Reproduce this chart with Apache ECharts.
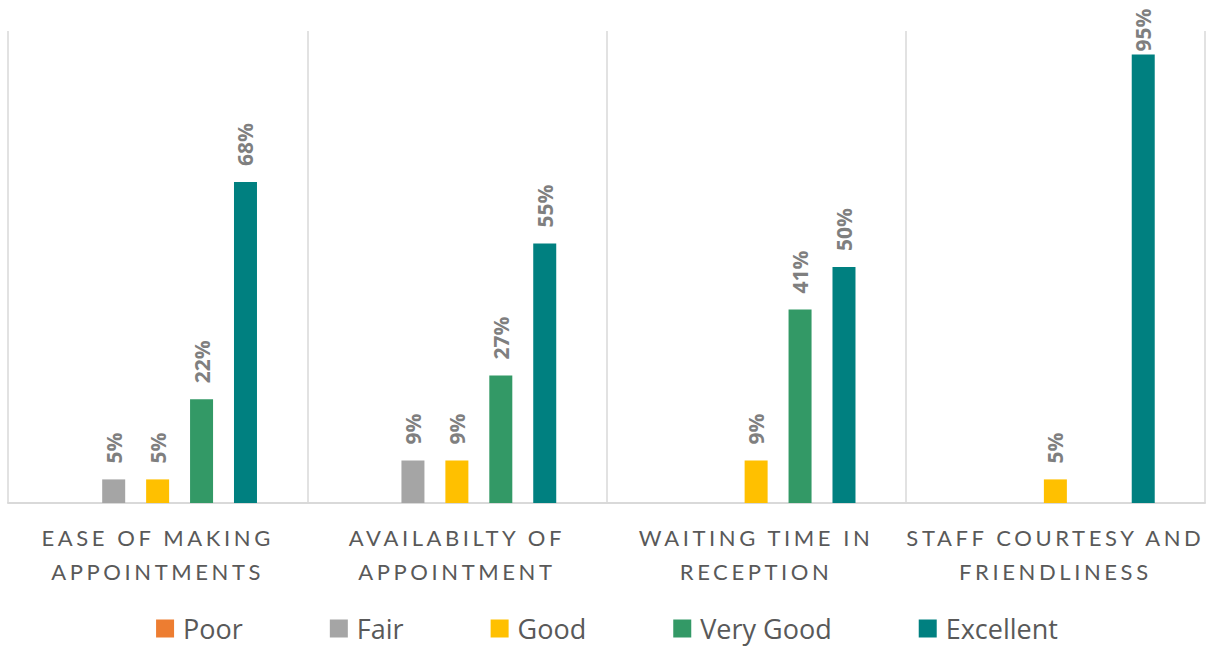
<!DOCTYPE html>
<html lang="en">
<head>
    <meta charset="UTF-8" />
    <title>Patient satisfaction</title>
    <script src="https://cdnjs.cloudflare.com/ajax/libs/echarts/6.0.0/echarts.min.js"></script>
    <style>
        html, body { margin: 0; padding: 0; background: #fff; }
        #main1 { width: 1214px; height: 646px; }
        /* spaced-out caps for the category names, like the original */
        #main1 svg text[style*="Lato"] { letter-spacing: 3.6px; }
    </style>
</head>
<body>
<div id="main1"></div>
<script>
    var categories = ['EASE OF MAKING\nAPPOINTMENTS', 'AVAILABILTY OF\nAPPOINTMENT',
                      'WAITING TIME IN\nRECEPTION', 'STAFF COURTESY AND\nFRIENDLINESS'];
    var poor      = [0, 0, 0, 0];
    var fair      = [5, 9, 0, 0];
    var good      = [5, 9, 9, 5];
    var veryGood  = [22, 27, 41, 0];
    var excellent = [68, 55, 50, 95];

    var seriesNames = ['Poor', 'Fair', 'Good', 'Very Good', 'Excellent'];
    var colors = ['#ED7D31', '#A5A5A5', '#FFC000', '#339966', '#008080'];
    var values = [poor, fair, good, veryGood, excellent];

    var myChart1 = echarts.init(document.getElementById('main1'), null, { renderer: 'svg' });

    var series = seriesNames.map(function (name, i) {
        return {
            name: name,
            type: 'bar',
            barWidth: 23,
            barGap: '91%',
            itemStyle: { color: colors[i] },
            // labels near the top edge get pulled down so they stay on the chart
            data: values[i].map(function (v) {
                return v > 90 ? { value: v, label: { distance: 3 } } : v;
            }),
            label: {
                show: true,
                position: 'top',
                rotate: 90,
                align: 'left',
                verticalAlign: 'middle',
                distance: 16,
                color: '#7F7F7F',
                fontFamily: 'Open Sans',
                fontWeight: 'bold',
                fontSize: 21,
                formatter: function (p) {
                    return p.value ? p.value + '%' : '';
                }
            }
        };
    });

    var option = {
        animation: false,
        color: colors,
        legend: {
            bottom: -1,
            left: 'center',
            itemWidth: 18,
            itemHeight: 18,
            itemGap: 87,
            icon: 'rect',
            textStyle: { color: '#595959', fontFamily: 'Open Sans', fontSize: 27, padding: [0, 0, 0, 4] },
            data: seriesNames
        },
        grid: { left: 8, right: 9, top: 31, bottom: 143 },
        xAxis: {
            type: 'category',
            data: categories,
            axisTick: { show: false },
            axisLine: { lineStyle: { color: '#D9D9D9', width: 2 } },
            splitLine: { show: true, lineStyle: { color: '#D9D9D9', width: 1.5 } },
            axisLabel: {
                color: '#595959',
                fontFamily: 'Lato',
                fontSize: 22,
                lineHeight: 34,
                margin: 17,
                interval: 0
            }
        },
        yAxis: {
            type: 'value',
            min: 0,
            max: 100,
            show: false
        },
        series: series
    };
    myChart1.setOption(option);
</script>
</body>
</html>
